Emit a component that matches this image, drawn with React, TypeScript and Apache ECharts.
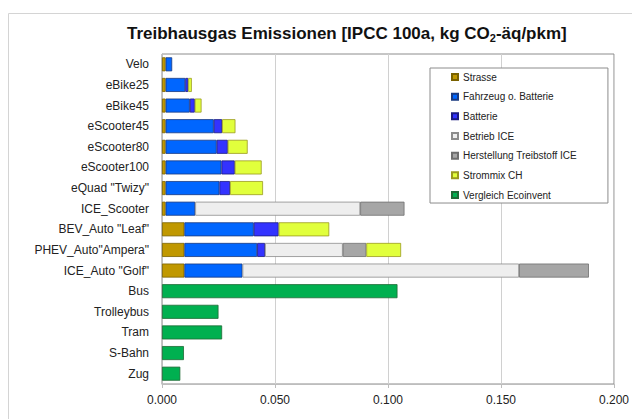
import React, { useEffect, useRef } from "react";
import * as echarts from "echarts";

const categories = [
  "Velo", "eBike25", "eBike45", "eScooter45", "eScooter80", "eScooter100",
  'eQuad "Twizy"', "ICE_Scooter", 'BEV_Auto "Leaf"', 'PHEV_Auto"Ampera"',
  'ICE_Auto "Golf"', "Bus", "Trolleybus", "Tram", "S-Bahn", "Zug",
];

const strasse = [0.0016, 0.0016, 0.0016, 0.0016, 0.0016, 0.0016, 0.0016, 0.0016, 0.0099, 0.0099, 0.0099, null, null, null, null, null];
const fahrzeug = [0.0029, 0.0087, 0.0107, 0.0213, 0.0226, 0.0247, 0.0238, 0.0131, 0.0307, 0.0322, 0.0257, null, null, null, null, null];
const batterie = [null, 0.0013, 0.0022, 0.0037, 0.0049, 0.0059, 0.0047, null, 0.011, 0.0035, null, null, null, null, null, null];
const betriebICE = [null, null, null, null, null, null, null, 0.073, null, 0.0344, 0.1224, null, null, null, null, null];
const herstellungICE = [null, null, null, null, null, null, null, 0.0196, null, 0.0104, 0.0309, null, null, null, null, null];
const strommix = [null, 0.0016, 0.003, 0.0059, 0.0088, 0.0119, 0.0146, null, 0.0224, 0.0154, null, null, null, null, null, null];
const vergleich = [null, null, null, null, null, null, null, null, null, null, null, 0.1042, 0.025, 0.0266, 0.0097, 0.0081];

const seriesDefs = [
  { name: "Strasse", data: strasse, color: "#C09800", border: "#7a6200" },
  { name: "Fahrzeug o. Batterie", data: fahrzeug, color: "#0066FF", border: "#1a3a80" },
  { name: "Batterie", data: batterie, color: "#3333FF", border: "#1a1a80" },
  { name: "Betrieb ICE", data: betriebICE, color: "#EEEEEE", border: "#8c8c8c" },
  { name: "Herstellung Treibstoff ICE", data: herstellungICE, color: "#A6A6A6", border: "#6e6e6e" },
  { name: "Strommix CH", data: strommix, color: "#E1FF3C", border: "#9a9a20" },
  { name: "Vergleich Ecoinvent", data: vergleich, color: "#00B050", border: "#1e6a35" },
];

const FONT = "Liberation Sans, Arial, sans-serif";

export default function App() {
  const ref = useRef<HTMLDivElement>(null);
  useEffect(() => {
    if (!ref.current) return;
    const chart = echarts.init(ref.current, undefined, { renderer: "svg" });
    chart.setOption({
      animation: false,
      backgroundColor: "#ffffff",
      textStyle: { fontFamily: FONT },
      title: {
        text: "Treibhausgas Emissionen [IPCC 100a, kg CO{sub|2}-äq/pkm]",
        left: 127,
        top: 24,
        padding: 0,
        textStyle: {
          fontFamily: FONT,
          fontSize: 17,
          fontWeight: "bold",
          color: "#111",
          rich: {
            sub: { fontFamily: FONT, fontSize: 11, fontWeight: "bold", color: "#111", padding: [8, 0, 0, 0] },
          },
        },
      },
      graphic: [
        {
          type: "rect",
          z: -1,
          shape: { x: 8.5, y: 13.5, width: 800, height: 600 },
          style: { fill: "none", stroke: "#d4d4d4", lineWidth: 1 },
          silent: true,
        },
      ],
      legend: {
        orient: "vertical",
        left: 430,
        top: 68,
        padding: [3, 31, 2, 21],
        backgroundColor: "#ffffff",
        borderColor: "#8c8c8c",
        borderWidth: 1,
        itemWidth: 6,
        itemHeight: 6,
        itemGap: 7.67,
        icon: "rect",
        textStyle: { fontFamily: FONT, fontSize: 10, color: "#222", lineHeight: 12 },
        data: seriesDefs.map((s) => s.name),
      },
      grid: {
        left: 162,
        right: 17,
        top: 54,
        bottom: 35,
        show: true,
        borderColor: "#8c8c8c",
        borderWidth: 1,
      },
      xAxis: {
        type: "value",
        min: 0,
        max: 0.2,
        interval: 0.05,
        axisLine: { show: true, lineStyle: { color: "#bdbdbd" } },
        axisTick: { show: true, length: 4, lineStyle: { color: "#bdbdbd" } },
        splitLine: { show: true, lineStyle: { color: "#d0d0d0", width: 1 } },
        axisLabel: {
          margin: 10,
          fontFamily: FONT,
          fontSize: 12,
          color: "#222",
          formatter: (v: number) => v.toFixed(3),
        },
      },
      yAxis: {
        type: "category",
        inverse: true,
        data: categories,
        axisLine: { show: true, lineStyle: { color: "#bdbdbd" } },
        axisTick: { show: false },
        axisLabel: { margin: 13, fontFamily: FONT, fontSize: 12, color: "#222" },
      },
      series: seriesDefs.map((s) => ({
        name: s.name,
        type: "bar",
        stack: "total",
        barWidth: 14,
        data: s.data,
        itemStyle: { color: s.color, borderColor: s.border, borderWidth: 0.8 },
        emphasis: { disabled: true },
      })),
    });
    return () => chart.dispose();
  }, []);
  return <div ref={ref} style={{ position: "fixed", left: 0, top: 0, width: 632, height: 419 }} />;
}
